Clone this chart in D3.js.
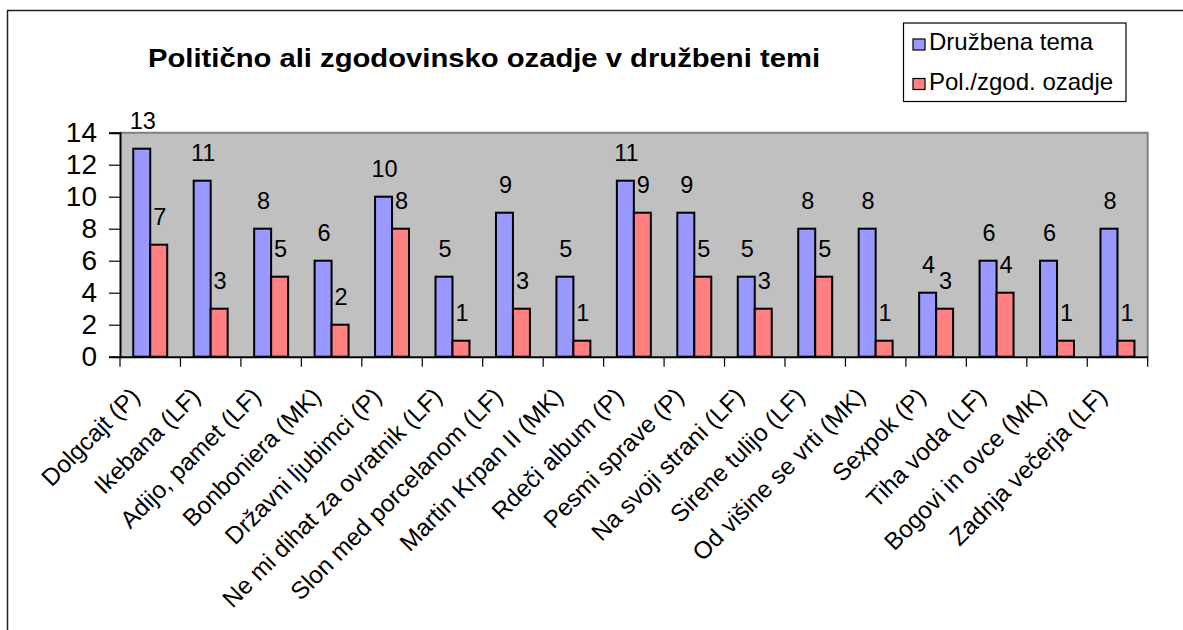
<!DOCTYPE html>
<html>
<head>
<meta charset="utf-8">
<script src="https://cdn.jsdelivr.net/npm/d3@7"></script>
<style>
  html, body { margin: 0; padding: 0; background: #fff; }
  svg { display: block; font-family: "Liberation Sans", Arial, sans-serif; }
</style>
</head>
<body>
<svg id="chart" width="1183" height="630"></svg>
<script>
const categories = [
  "Dolgcajt (P)", "Ikebana (LF)", "Adijo, pamet (LF)", "Bonboniera (MK)",
  "Državni ljubimci (P)", "Ne mi dihat za ovratnik (LF)", "Slon med porcelanom (LF)",
  "Martin Krpan II (MK)", "Rdeči album (P)", "Pesmi sprave (P)", "Na svoji strani (LF)",
  "Sirene tulijo (LF)", "Od višine se vrti (MK)", "Sexpok (P)", "Tiha voda (LF)",
  "Bogovi in ovce (MK)", "Zadnja večerja (LF)"
];
const seriesNames = ["Družbena tema", "Pol./zgod. ozadje"];
const druzbenaTema = [13, 11, 8, 6, 10, 5, 9, 5, 11, 9, 5, 8, 8, 4, 6, 6, 8];
const polZgodOzadje = [7, 3, 5, 2, 8, 1, 3, 1, 9, 5, 3, 5, 1, 3, 4, 1, 1];
const yTicks = [0, 2, 4, 6, 8, 10, 12, 14];
const titleText = "Politično ali zgodovinsko ozadje v družbeni temi";

const colors = ["#9999FF", "#FF8080"];
const seriesValues = [druzbenaTema, polZgodOzadje];

const svg = d3.select("#chart");
const plot = { left: 120, right: 1147.7, top: 132.7, bottom: 356.7 };

// outer chart border
svg.append("rect")
  .attr("x", 7.5).attr("y", 10.5).attr("width", 1300).attr("height", 800)
  .attr("fill", "#fff").attr("stroke", "#222").attr("stroke-width", 1.5);

// title
svg.append("text")
  .attr("x", 484).attr("y", 66.5)
  .attr("text-anchor", "middle")
  .attr("font-size", 26).attr("font-weight", "bold")
  .attr("textLength", 672).attr("lengthAdjust", "spacingAndGlyphs")
  .text(titleText);

const x0 = d3.scaleBand().domain(categories).range([plot.left, plot.right]).padding(0);
const x1 = d3.scaleBand().domain(seriesNames).range([0, x0.bandwidth()]).paddingInner(0).paddingOuter(0.78);
const y = d3.scaleLinear().domain([0, 14]).range([plot.bottom, plot.top]);

// plot background
svg.append("rect")
  .attr("x", plot.left).attr("y", plot.top)
  .attr("width", plot.right - plot.left).attr("height", plot.bottom - plot.top)
  .attr("fill", "#C0C0C0");
// top & right border gray
svg.append("path")
  .attr("d", `M${plot.left},${plot.top}H${plot.right}V${plot.bottom}`)
  .attr("fill", "none").attr("stroke", "#808080").attr("stroke-width", 2);

// bars
const data = categories.map((c, i) => ({ cat: c, vals: seriesNames.map((s, j) => ({ s, j, v: seriesValues[j][i] })) }));
const groups = svg.append("g").selectAll("g").data(data).join("g")
  .attr("transform", d => `translate(${x0(d.cat)},0)`);
groups.selectAll("rect").data(d => d.vals).join("rect")
  .attr("x", d => x1(d.s))
  .attr("y", d => y(d.v))
  .attr("width", x1.bandwidth())
  .attr("height", d => y(0) - y(d.v))
  .attr("fill", d => colors[d.j])
  .attr("stroke", "#000").attr("stroke-width", 2);
groups.selectAll("text").data(d => d.vals).join("text")
  .attr("x", d => x1(d.s) + x1.bandwidth() / 2 + 1)
  .attr("y", d => y(d.v) - 20)
  .attr("text-anchor", "middle")
  .attr("font-size", 23.5)
  .text(d => d.v);

// y axis
const yAxis = d3.axisLeft(y).tickValues(yTicks).tickSize(11).tickPadding(12);
const gy = svg.append("g").attr("transform", `translate(${plot.left},0)`).call(yAxis);
gy.select(".domain").attr("stroke", "#000").attr("stroke-width", 2);
gy.selectAll(".tick line").attr("stroke", "#000").attr("stroke-width", 1.2);
gy.selectAll(".tick text").attr("font-size", 28).attr("fill", "#000")
  .attr("font-family", "'Liberation Sans', Arial, sans-serif");

// x axis
const xAxis = d3.axisBottom(x0).tickSize(0).tickFormat("");
const gx = svg.append("g").attr("transform", `translate(0,${plot.bottom})`).call(xAxis);
gx.select(".domain").attr("stroke", "#000").attr("stroke-width", 2);
const boundaries = categories.map(c => x0(c)).concat([x0(categories[categories.length - 1]) + x0.step()]);
svg.append("g").selectAll("line").data(boundaries).join("line")
  .attr("x1", d => d).attr("x2", d => d)
  .attr("y1", plot.bottom).attr("y2", plot.bottom + 10)
  .attr("stroke", "#000").attr("stroke-width", 1.2);

// category labels
svg.append("g").selectAll("text").data(categories).join("text")
  .attr("transform", d => `translate(${x0(d) + x0.bandwidth() / 2 - 9},398) rotate(-45)`)
  .attr("text-anchor", "end")
  .attr("font-size", 24.3)
  .text(d => d);

// legend
const lg = svg.append("g");
lg.append("rect").attr("x", 903.5).attr("y", 23).attr("width", 222.5).attr("height", 78.5)
  .attr("fill", "#fff").attr("stroke", "#000").attr("stroke-width", 1.2);
const legendY = [50, 89.5];
seriesNames.forEach((s, i) => {
  lg.append("rect").attr("x", 913).attr("y", legendY[i] - 11).attr("width", 12).attr("height", 11)
    .attr("fill", colors[i]).attr("stroke", "#000").attr("stroke-width", 1.2);
  lg.append("text").attr("x", 929).attr("y", legendY[i]).attr("font-size", 24).text(s);
});
</script>
</body>
</html>
